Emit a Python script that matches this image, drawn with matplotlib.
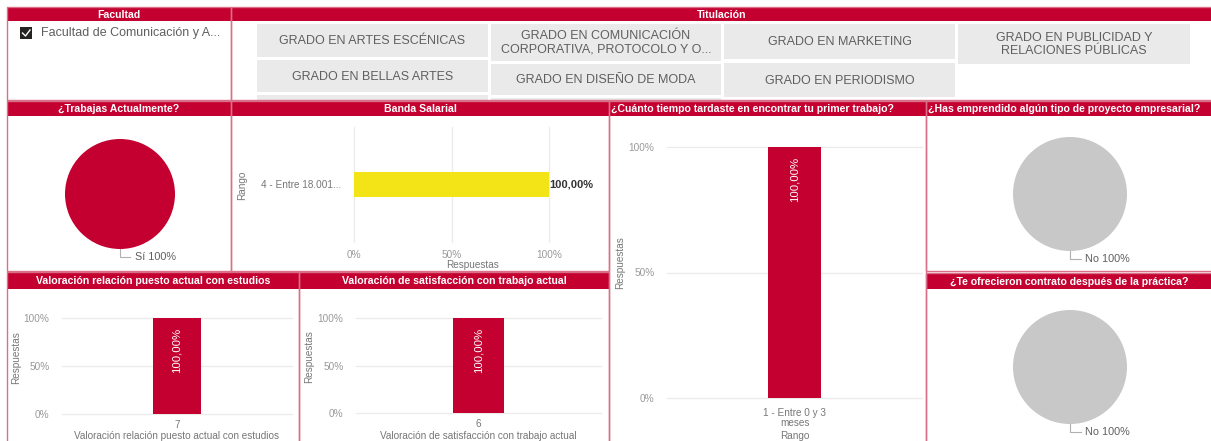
import matplotlib
matplotlib.use('Agg')
import matplotlib.pyplot as plt
from matplotlib.patches import Rectangle
from matplotlib import font_manager

# ---------------- data ----------------
facultad_items = ['Facultad de Comunicación y A...']
titulaciones = ['GRADO EN ARTES ESCÉNICAS',
                'GRADO EN COMUNICACIÓN\nCORPORATIVA, PROTOCOLO Y O...',
                'GRADO EN MARKETING',
                'GRADO EN PUBLICIDAD Y\nRELACIONES PÚBLICAS',
                'GRADO EN BELLAS ARTES',
                'GRADO EN DISEÑO DE MODA',
                'GRADO EN PERIODISMO']
trabajas_labels = ['Sí']
trabajas_values = [100]
banda_labels = ['4 - Entre 18.001...']
banda_values = [100.0]
tiempo_labels = ['1 - Entre 0 y 3\nmeses']
tiempo_values = [100.0]
emprendido_labels = ['No']
emprendido_values = [100]
relacion_labels = ['7']
relacion_values = [100.0]
satisf_labels = ['6']
satisf_values = [100.0]
contrato_labels = ['No']
contrato_values = [100]
pct_ticks = [0, 50, 100]
pct_ticklabels = ['0%', '50%', '100%']

# ---------------- style ----------------
W, H = 1211, 441
RED = '#C3002F'
BORDER = '#DA6F88'
GRAY_PIE = '#C8C8C8'
YELLOW = '#F2E417'
BTN = '#EAEAEA'
TXT = '#5F5F5F'
TICK = '#999999'
TITLE = '#777777'

plt.rcParams['font.family'] = ['Liberation Sans', 'DejaVu Sans']
names = {f.name for f in font_manager.fontManager.ttflist}
if 'Liberation Sans Narrow' in names:
    HFONT, HSIZE = ['Liberation Sans Narrow', 'DejaVu Sans'], 9.0
else:
    HFONT, HSIZE = ['Liberation Sans', 'DejaVu Sans'], 7.6

fig = plt.figure(figsize=(W / 100, H / 100), dpi=100)
fig.patch.set_facecolor('white')

bg = fig.add_axes([0, 0, 1, 1])
bg.set_xlim(0, W)
bg.set_ylim(H, 0)
bg.axis('off')


def add_ax(x0, y0, x1, y1):
    ax = fig.add_axes([x0 / W, 1 - y1 / H, (x1 - x0) / W, (y1 - y0) / H])
    ax.patch.set_alpha(0)
    return ax


def fmt(v):
    return f'{v:.2f}'.replace('.', ',') + '%'


def panel(x0, y0, x1, y1):
    bg.add_patch(Rectangle((x0, y0), x1 - x0, y1 - y0, fill=False,
                           ec=BORDER, lw=1.0, zorder=3))


def header(x0, y0, x1, y1, text, ha='center'):
    bg.add_patch(Rectangle((x0, y0), x1 - x0, y1 - y0, color=RED, lw=0, zorder=2))
    tx = (x0 + x1) / 2 if ha == 'center' else x0 + 2
    bg.text(tx, (y0 + y1) / 2 + 0.5, text, color='white', fontweight='bold',
            family=HFONT, fontsize=HSIZE, ha=ha, va='center', zorder=4)


# ---------------- panels ----------------
panel(7, 7, 231, 100)
panel(231, 7, 1212, 100)
panel(7, 101, 231, 271)
panel(231, 101, 609, 271)
panel(609, 101, 926, 442)
panel(926, 101, 1212, 271)
panel(7, 272, 299, 442)
panel(299, 272, 609, 442)
panel(926, 273, 1212, 442)

header(7, 7, 231, 21, 'Facultad')
header(231, 7, 1212, 21, 'Titulación')
header(7, 101, 231, 116, '¿Trabajas Actualmente?')
header(231, 101, 609, 116, 'Banda Salarial')
header(609, 101, 926, 116, '¿Cuánto tiempo tardaste en encontrar tu primer trabajo?', ha='left')
header(926, 101, 1212, 116, '¿Has emprendido algún tipo de proyecto empresarial?', ha='left')
header(7, 273, 299, 289, 'Valoración relación puesto actual con estudios')
header(299, 273, 609, 289, 'Valoración de satisfacción con trabajo actual')
header(926, 274, 1212, 289, '¿Te ofrecieron contrato después de la práctica?')

# ---------------- slicers ----------------
bg.add_patch(Rectangle((20, 27), 12, 12, color='#252423', lw=0, zorder=3))
bg.plot([22.5, 25.5, 30], [33, 36, 30], color='white', lw=1.0, zorder=4)
bg.text(41, 33, facultad_items[0], color=TXT, fontsize=9, ha='left', va='center')

btn_boxes = [(257, 24, 488, 57), (491, 24, 721, 61), (724, 24, 955, 59),
             (958, 24, 1190, 64), (257, 60, 488, 92), (491, 64, 721, 95),
             (724, 63, 955, 97)]
for (x0, y0, x1, y1), lab in zip(btn_boxes, titulaciones):
    bg.add_patch(Rectangle((x0, y0), x1 - x0, y1 - y0, color=BTN, lw=0, zorder=1))
    bg.text((x0 + x1) / 2, (y0 + y1) / 2 + 0.5, lab, color=TXT, fontsize=9,
            ha='center', va='center', linespacing=1.2, zorder=2)
for (x0, y0, x1, y1) in [(257, 95, 488, 101), (491, 98, 721, 101)]:
    bg.add_patch(Rectangle((x0, y0), x1 - x0, y1 - y0, color=BTN, lw=0, zorder=1))


# ---------------- pies ----------------
def pie(box, labels, values, color):
    ax = add_ax(*box)
    ax.pie(values, colors=[color], startangle=90, counterclock=False,
           wedgeprops=dict(linewidth=0))
    ax.set_aspect('auto')
    ax.set_xlim(-1, 1)
    ax.set_ylim(-1, 1)
    ax.plot([0, 0, 0.19], [-1.0, -1.14, -1.14], color='#B0B0B0', lw=0.8,
            clip_on=False)
    ax.text(0.27, -1.14, f'{labels[0]} {values[0]}%', color=TXT, fontsize=7.8,
            ha='left', va='center', clip_on=False)
    return ax


pie((65, 139, 175, 249), trabajas_labels, trabajas_values, RED)
pie((1013, 137, 1127, 251), emprendido_labels, emprendido_values, GRAY_PIE)
pie((1013, 310, 1127, 424), contrato_labels, contrato_values, GRAY_PIE)


def style_axes(ax):
    for s in ax.spines.values():
        s.set_visible(False)
    ax.tick_params(length=0, labelsize=7.2, labelcolor=TICK)
    ax.set_axisbelow(True)


# ---------------- horizontal bar ----------------
ax = add_ax(354, 127, 549, 242)
ax.barh(range(len(banda_labels)), banda_values, height=0.22, color=YELLOW)
ax.set_xlim(0, 100)
ax.set_ylim(-0.5, len(banda_labels) - 0.5)
ax.set_xticks(pct_ticks, pct_ticklabels)
ax.set_yticks(range(len(banda_labels)), banda_labels)
style_axes(ax)
ax.tick_params(axis='y', labelcolor=TITLE, pad=9)
ax.tick_params(axis='x', pad=6)
ax.grid(axis='x', color='#EBEBEB', lw=0.9)
for gl in ax.get_xgridlines():
    gl.set_clip_on(False)
ax.set_xlabel('Respuestas', fontsize=7.2, color=TITLE)
ax.xaxis.set_label_coords(0.61, -0.16)
ax.set_ylabel('Rango', fontsize=7.2, color=TITLE)
ax.yaxis.set_label_coords(-0.55, 0.49)
for i, v in enumerate(banda_values):
    ax.text(v, i, fmt(v), color='#333333', fontsize=8, fontweight='bold',
            ha='left', va='center')


# ---------------- vertical bars ----------------
def vbar(box, labels, values, xlabel, ylab_x, ylab_y, tickpad, xlab_y):
    ax = add_ax(*box)
    ax.bar(range(len(labels)), values, width=0.21, color=RED)
    ax.set_xlim(-0.5, len(labels) - 0.5)
    ax.set_ylim(0, 100)
    ax.set_yticks(pct_ticks, pct_ticklabels)
    ax.set_xticks(range(len(labels)), labels)
    style_axes(ax)
    ax.tick_params(axis='y', pad=9)
    ax.tick_params(axis='x', labelcolor=TITLE, pad=tickpad)
    for t in ax.get_xticklabels():
        t.set_linespacing(1.05)
    ax.grid(axis='y', color='#EBEBEB', lw=0.9)
    for gl in ax.get_ygridlines():
        gl.set_clip_on(False)
    ax.set_xlabel(xlabel, fontsize=7.2, color=TITLE)
    ax.xaxis.set_label_coords(0.5, xlab_y)
    ax.set_ylabel('Respuestas', fontsize=7.2, color=TITLE)
    ax.yaxis.set_label_coords(ylab_x, ylab_y)
    for i, v in enumerate(values):
        ax.annotate(fmt(v), xy=(i, v), xytext=(0, -7), textcoords='offset points',
                    rotation=90, ha='center', va='top', color='white', fontsize=8.2)
    return ax


vbar((667, 147, 922, 398), tiempo_labels, tiempo_values, 'Rango',
     -0.165, 0.54, 7, -0.132)
vbar((62, 318, 292, 414), relacion_labels, relacion_values,
     'Valoración relación puesto actual con estudios', -0.178, 0.59, 4, -0.18)
vbar((356, 318, 601, 413), satisf_labels, satisf_values,
     'Valoración de satisfacción con trabajo actual', -0.171, 0.59, 4, -0.19)

fig.savefig('out.png', dpi=100, facecolor='white')
